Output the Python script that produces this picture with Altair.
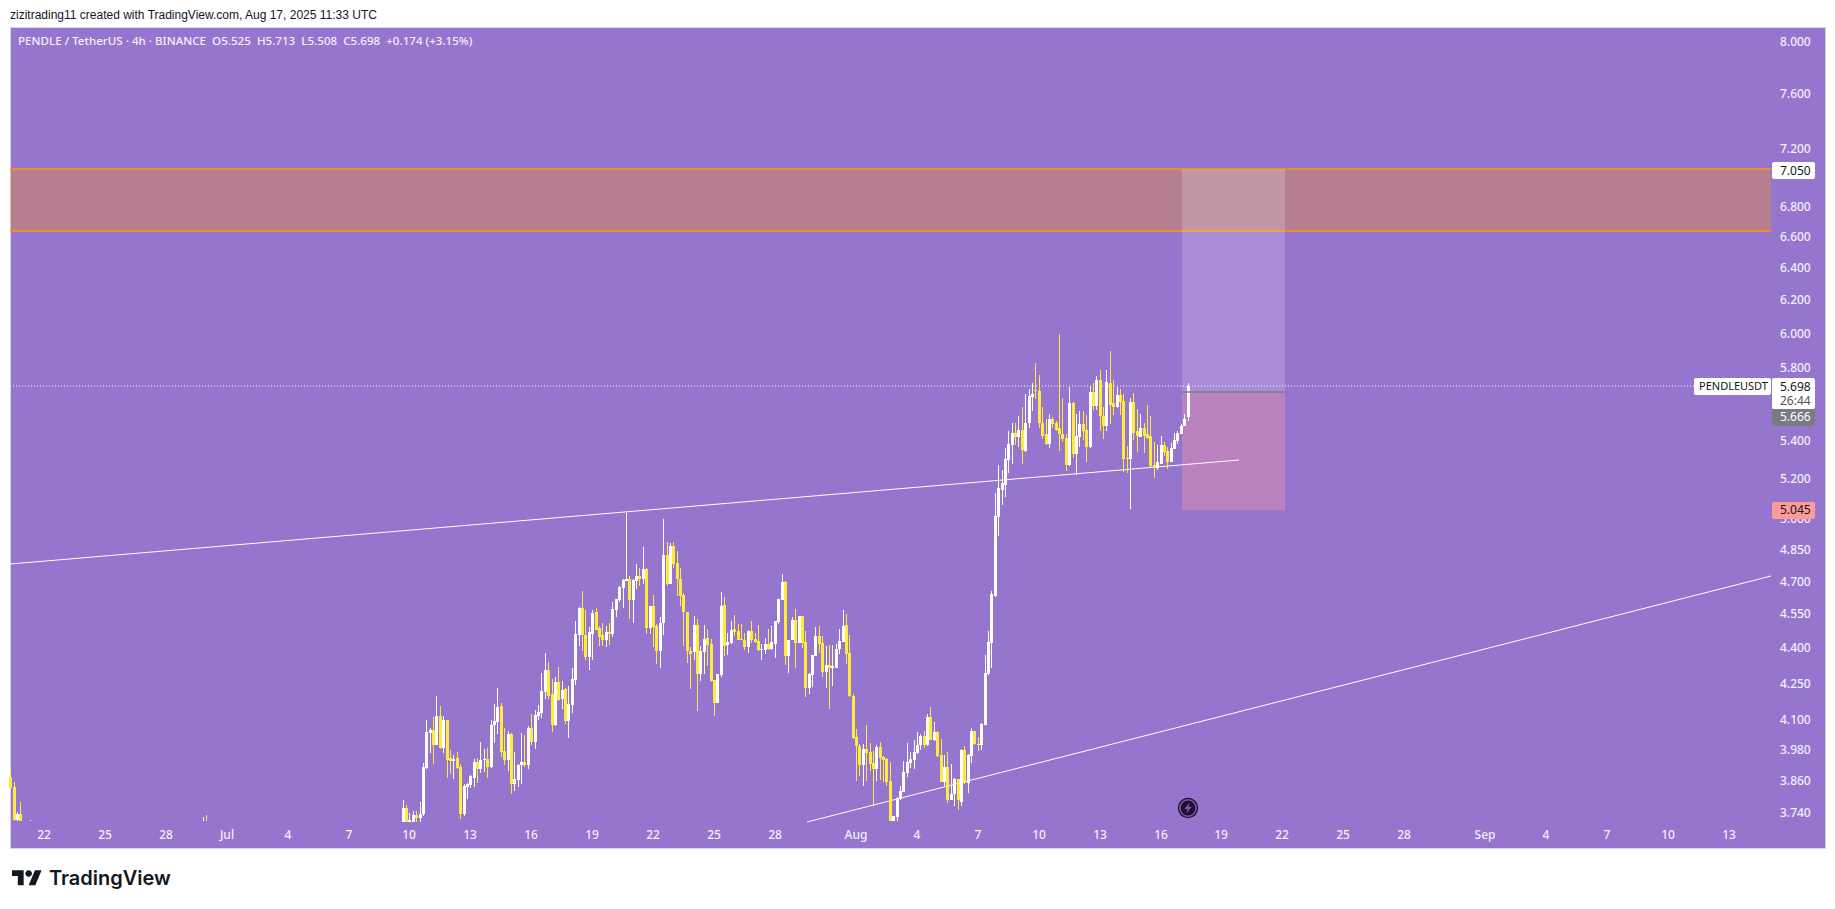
import datetime as dt
import altair as alt
import pandas as pd

# ---------- chart data (prices) ----------
bar_k = [-10, -9, -8, -7, -4, 47, 48] + list(range(106, 339))

opens = [3.878, 3.838, 3.715, 3.737, 3.711, 3.711, 3.712,
 3.71, 3.761, 3.71, 3.71, 3.735, 3.724, 3.739, 3.911, 4.048, 4.060,
 4.001, 4.116, 3.989, 4.100, 3.950, 3.938, 3.950, 3.915, 3.739, 3.839,
 3.846, 3.873, 3.934, 3.907, 3.942, 3.946, 3.915, 4.080, 4.092, 4.157,
 3.977, 3.942, 4.044, 3.850, 3.865, 3.922, 3.934, 3.922, 4.068, 4.013,
 4.116, 4.129, 4.217, 4.309, 4.208, 4.081, 4.255, 4.187, 4.229, 4.097,
 4.162, 4.267, 4.461, 4.581, 4.461, 4.365, 4.465, 4.559, 4.488, 4.457,
 4.435, 4.474, 4.465, 4.572, 4.613, 4.670, 4.701, 4.714, 4.613, 4.701,
 4.728, 4.714, 4.757, 4.488, 4.590, 4.497, 4.387, 4.514, 4.824, 4.690,
 4.867, 4.786, 4.714, 4.636, 4.562, 4.391, 4.383, 4.501, 4.291, 4.383,
 4.444, 4.418, 4.267, 4.171, 4.285, 4.592, 4.414, 4.422, 4.484, 4.475,
 4.440, 4.436, 4.405, 4.475, 4.440, 4.431, 4.392, 4.392, 4.418, 4.396,
 4.418, 4.515, 4.615, 4.698, 4.366, 4.436, 4.524, 4.422, 4.542, 4.427,
 4.230, 4.285, 4.366, 4.453, 4.422, 4.301, 4.327, 4.318, 4.318, 4.396,
 4.427, 4.502, 4.379, 4.200, 4.033, 3.997, 3.923, 3.985, 3.974, 3.930,
 3.907, 3.993, 3.954, 3.946, 3.863, 3.712, 3.728, 3.792, 3.819, 3.892,
 3.930, 3.942, 3.970, 4.001, 4.036, 4.001, 4.114, 4.021, 4.053, 3.962,
 3.859, 3.915, 3.788, 3.811, 3.869, 3.784, 3.981, 3.855, 3.958, 4.057,
 4.005, 4.001, 4.081, 4.289, 4.422, 4.635, 5.009, 5.144, 5.170, 5.300,
 5.378, 5.443, 5.422, 5.459, 5.347, 5.492, 5.635, 5.674, 5.669, 5.497,
 5.433, 5.384, 5.519, 5.497, 5.465, 5.438, 5.416, 5.274, 5.602, 5.331,
 5.422, 5.487, 5.459, 5.368, 5.663, 5.586, 5.731, 5.530, 5.476, 5.714,
 5.602, 5.580, 5.647, 5.614, 5.310, 5.305, 5.608, 5.449, 5.422, 5.470,
 5.433, 5.427, 5.274, 5.258, 5.279, 5.378, 5.347, 5.290, 5.358, 5.400,
 5.438, 5.476, 5.525]

highs = [3.910, 3.857, 3.744, 3.781, 3.715, 3.726, 3.734,
 3.790, 3.772, 3.741, 3.750, 3.750, 3.783, 3.929, 4.100, 4.068, 4.112,
 4.199, 4.157, 4.116, 4.100, 3.981, 3.961, 3.973, 3.926, 3.850, 3.854,
 3.884, 3.946, 3.950, 4.013, 3.985, 3.989, 4.100, 4.165, 4.231, 4.169,
 4.068, 4.056, 4.048, 3.973, 3.926, 4.048, 4.040, 4.076, 4.124, 4.141,
 4.161, 4.294, 4.381, 4.342, 4.271, 4.278, 4.322, 4.262, 4.234, 4.242,
 4.318, 4.519, 4.585, 4.655, 4.568, 4.492, 4.568, 4.581, 4.497, 4.510,
 4.497, 4.510, 4.608, 4.622, 4.678, 4.711, 5.029, 4.728, 4.711, 4.781,
 4.762, 4.862, 4.762, 4.590, 4.636, 4.506, 4.537, 4.999, 4.886, 4.882,
 4.886, 4.843, 4.762, 4.646, 4.562, 4.405, 4.544, 4.530, 4.409, 4.502,
 4.484, 4.440, 4.267, 4.289, 4.651, 4.628, 4.466, 4.520, 4.547, 4.506,
 4.506, 4.466, 4.479, 4.520, 4.466, 4.502, 4.418, 4.444, 4.484, 4.497,
 4.520, 4.619, 4.735, 4.702, 4.436, 4.538, 4.574, 4.542, 4.542, 4.475,
 4.297, 4.370, 4.493, 4.497, 4.453, 4.409, 4.414, 4.414, 4.418, 4.484,
 4.569, 4.551, 4.457, 4.208, 4.065, 4.003, 4.003, 4.081, 4.007, 3.976,
 4.000, 4.012, 3.958, 3.950, 3.934, 3.732, 3.800, 3.842, 3.938, 4.007,
 3.974, 4.019, 4.052, 4.044, 4.057, 4.126, 4.155, 4.094, 4.057, 4.025,
 3.962, 3.974, 3.926, 3.873, 3.869, 3.985, 3.997, 3.966, 4.069, 4.057,
 4.033, 4.089, 4.373, 4.475, 4.656, 5.129, 5.274, 5.248, 5.363, 5.454,
 5.497, 5.497, 5.530, 5.580, 5.652, 5.680, 5.714, 5.829, 5.760, 5.580,
 5.519, 5.541, 5.525, 5.503, 5.998, 5.630, 5.436, 5.691, 5.608, 5.541,
 5.558, 5.558, 5.536, 5.697, 5.714, 5.754, 5.788, 5.580, 5.788, 5.898,
 5.731, 5.691, 5.680, 5.652, 5.373, 5.630, 5.658, 5.569, 5.541, 5.497,
 5.591, 5.530, 5.395, 5.378, 5.427, 5.395, 5.368, 5.389, 5.443, 5.449,
 5.487, 5.545, 5.713]

lows = [3.829, 3.711, 3.711, 3.711, 3.711, 3.711, 3.711,
 3.71, 3.71, 3.71, 3.71, 3.71, 3.71, 3.732, 3.907, 3.969, 3.926,
 4.001, 3.985, 3.969, 3.873, 3.888, 3.869, 3.907, 3.721, 3.732, 3.794,
 3.835, 3.839, 3.854, 3.892, 3.896, 3.873, 3.911, 4.009, 4.044, 3.953,
 3.922, 3.899, 3.813, 3.824, 3.839, 3.850, 3.915, 3.907, 4.001, 3.985,
 4.100, 4.108, 4.187, 4.187, 4.053, 4.077, 4.179, 4.145, 4.085, 4.028,
 4.130, 4.246, 4.409, 4.387, 4.352, 4.309, 4.352, 4.479, 4.409, 4.409,
 4.405, 4.413, 4.452, 4.540, 4.608, 4.581, 4.701, 4.528, 4.510, 4.664,
 4.678, 4.687, 4.465, 4.465, 4.405, 4.335, 4.318, 4.461, 4.678, 4.690,
 4.762, 4.632, 4.590, 4.409, 4.339, 4.229, 4.352, 4.138, 4.263, 4.292,
 4.323, 4.255, 4.118, 4.171, 4.280, 4.366, 4.370, 4.418, 4.453, 4.436,
 4.436, 4.392, 4.379, 4.422, 4.422, 4.387, 4.352, 4.374, 4.392, 4.392,
 4.361, 4.509, 4.615, 4.331, 4.297, 4.436, 4.318, 4.422, 4.400, 4.196,
 4.208, 4.238, 4.366, 4.379, 4.276, 4.231, 4.147, 4.242, 4.318, 4.374,
 4.427, 4.335, 4.196, 4.025, 3.863, 3.880, 3.842, 3.863, 3.900, 3.768,
 3.863, 3.867, 3.859, 3.843, 3.712, 3.712, 3.712, 3.788, 3.819, 3.877,
 3.911, 3.907, 3.966, 3.982, 3.989, 3.997, 4.021, 4.017, 3.954, 3.859,
 3.843, 3.780, 3.788, 3.766, 3.752, 3.766, 3.851, 3.815, 3.930, 4.001,
 3.977, 3.981, 4.081, 4.285, 4.318, 4.631, 4.916, 5.069, 5.109, 5.232,
 5.279, 5.378, 5.368, 5.279, 5.342, 5.470, 5.558, 5.625, 5.465, 5.411,
 5.378, 5.363, 5.465, 5.449, 5.347, 5.395, 5.243, 5.269, 5.310, 5.222,
 5.368, 5.406, 5.290, 5.363, 5.563, 5.563, 5.449, 5.411, 5.454, 5.487,
 5.536, 5.575, 5.536, 5.238, 5.232, 5.049, 5.406, 5.342, 5.422, 5.336,
 5.411, 5.264, 5.206, 5.248, 5.279, 5.320, 5.253, 5.285, 5.358, 5.384,
 5.438, 5.476, 5.508]

closes = [3.836, 3.715, 3.737, 3.711, 3.711, 3.711, 3.711,
 3.761, 3.71, 3.717, 3.735, 3.724, 3.739, 3.915, 4.052, 4.060, 4.001,
 4.116, 3.989, 4.100, 3.942, 3.938, 3.946, 3.911, 3.739, 3.843, 3.850,
 3.880, 3.934, 3.907, 3.942, 3.946, 3.915, 4.080, 4.096, 4.153, 3.973,
 3.942, 4.044, 3.850, 3.869, 3.922, 3.934, 3.922, 4.068, 4.013, 4.120,
 4.133, 4.219, 4.309, 4.200, 4.081, 4.255, 4.183, 4.225, 4.097, 4.167,
 4.271, 4.465, 4.581, 4.461, 4.365, 4.470, 4.555, 4.483, 4.452, 4.435,
 4.474, 4.465, 4.576, 4.618, 4.673, 4.706, 4.711, 4.613, 4.706, 4.728,
 4.711, 4.757, 4.488, 4.590, 4.492, 4.387, 4.514, 4.824, 4.690, 4.867,
 4.781, 4.711, 4.632, 4.559, 4.387, 4.378, 4.501, 4.292, 4.387, 4.440,
 4.414, 4.263, 4.171, 4.289, 4.588, 4.409, 4.427, 4.479, 4.470, 4.436,
 4.436, 4.405, 4.475, 4.436, 4.427, 4.392, 4.396, 4.418, 4.396, 4.427,
 4.520, 4.619, 4.698, 4.366, 4.436, 4.524, 4.422, 4.542, 4.422, 4.230,
 4.289, 4.370, 4.453, 4.418, 4.301, 4.327, 4.318, 4.323, 4.396, 4.431,
 4.497, 4.374, 4.200, 4.029, 3.997, 3.923, 3.985, 3.970, 3.926, 3.907,
 3.993, 3.950, 3.942, 3.859, 3.712, 3.732, 3.796, 3.823, 3.896, 3.934,
 3.946, 3.974, 4.001, 4.036, 4.001, 4.114, 4.021, 4.053, 3.958, 3.859,
 3.915, 3.788, 3.811, 3.869, 3.788, 3.981, 3.855, 3.962, 4.057, 4.005,
 4.001, 4.085, 4.293, 4.427, 4.642, 5.014, 5.154, 5.180, 5.305, 5.384,
 5.443, 5.422, 5.459, 5.352, 5.497, 5.641, 5.652, 5.669, 5.492, 5.427,
 5.384, 5.519, 5.487, 5.459, 5.433, 5.411, 5.274, 5.602, 5.331, 5.427,
 5.487, 5.454, 5.368, 5.663, 5.586, 5.731, 5.530, 5.476, 5.720, 5.591,
 5.580, 5.647, 5.608, 5.305, 5.305, 5.608, 5.443, 5.427, 5.470, 5.427,
 5.416, 5.269, 5.258, 5.285, 5.378, 5.342, 5.290, 5.363, 5.406, 5.443,
 5.481, 5.519, 5.698]

price_labels = [8.0, 7.6, 7.2, 6.8, 6.6, 6.4, 6.2, 6.0, 5.8, 5.4, 5.2, 5.0,
                4.85, 4.7, 4.55, 4.4, 4.25, 4.1, 3.98, 3.86, 3.74]
date_ticks = ["2025-06-22", "2025-06-25", "2025-06-28", "2025-07-01", "2025-07-04",
              "2025-07-07", "2025-07-10", "2025-07-13", "2025-07-16", "2025-07-19",
              "2025-07-22", "2025-07-25", "2025-07-28", "2025-08-01", "2025-08-04",
              "2025-08-07", "2025-08-10", "2025-08-13", "2025-08-16", "2025-08-19",
              "2025-08-22", "2025-08-25", "2025-08-28", "2025-09-01", "2025-09-04",
              "2025-09-07", "2025-09-10", "2025-09-13"]
date_labels = ["22", "25", "28", "Jul", "4", "7", "10", "13", "16", "19", "22", "25", "28",
               "Aug", "4", "7", "10", "13", "16", "19", "22", "25", "28", "Sep", "4", "7", "10", "13"]

PURPLE = "#9575cd"
YELLOW = "#ffeb3b"
ORANGE = "#ff9800"
GREY = "#787b86"
TICK = "#f3eff9"
FONT = "Noto Sans"

DOM_L = "2025-06-20T07:48:00Z"
DOM_R = "2025-09-17T17:31:00Z"
PANE_R = "2025-09-15T01:50:00Z"
BOX_L = "2025-08-17T01:25:00Z"
BOX_R = "2025-08-22T03:10:00Z"

XS = alt.Scale(type="utc", domain=[DOM_L, DOM_R], round=True, padding=0, nice=False)
YS = alt.Scale(type="log", domain=[3.6147, 8.117], round=True, nice=False, zero=False, padding=0)

t0 = dt.datetime(2025, 6, 22)
assert len(bar_k) == len(opens) == len(highs) == len(lows) == len(closes)
candles = pd.DataFrame({
    "t": [(t0 + dt.timedelta(hours=4 * k)).strftime("%Y-%m-%dT%H:%M:00Z") for k in bar_k],
    "o": opens, "h": highs, "l": lows, "c": closes,
})
candles["top"] = candles[["o", "c"]].max(axis=1)
candles["bot"] = candles[["o", "c"]].min(axis=1)
candles["dir"] = ["up" if c >= o else "down" for o, c in zip(opens, closes)]
DIR = alt.Color("dir:N", scale=alt.Scale(domain=["up", "down"], range=["#ffffff", YELLOW]), legend=None)


def X(f, **kw):
    return alt.X(f, type="temporal", scale=XS, axis=None, title=None, **kw)


def Y(f):
    return alt.Y(f, type="quantitative", scale=YS, axis=None, title=None)


def rect(x1, x2, p1, p2, **mark):
    d = pd.DataFrame({"a": [x1], "b": [x2], "p": [p1], "q": [p2]})
    return alt.Chart(d).mark_rect(**mark).encode(
        x=X("a"), x2=alt.X2("b"), y=Y("p"), y2=alt.Y2("q"))


def hline(x1, x2, p, color, width=1.0, dash=None, opacity=1.0):
    d = pd.DataFrame({"a": [x1], "b": [x2], "p": [p]})
    kw = {"strokeDash": dash} if dash else {}
    return alt.Chart(d).mark_rule(color=color, strokeWidth=width, opacity=opacity, **kw).encode(
        x=X("a"), x2=alt.X2("b"), y=Y("p"))


def trend(x1, p1, x2, p2):
    d = pd.DataFrame({"a": [x1, x2], "p": [p1, p2]})
    return alt.Chart(d).mark_line(color="#ffffff", strokeWidth=1).encode(x=X("a"), y=Y("p"))


def px_box(x1, x2, y1, y2, color):
    return alt.Chart(pd.DataFrame({"n": [0]})).mark_rect(color=color, cornerRadius=2).encode(
        x=alt.value(x1 - 10), x2=alt.value(x2 - 10), y=alt.value(y1 - 27), y2=alt.value(y2 - 27))


def px_text(x, y, s, color, size=11.6, align="left", font=FONT, weight="normal"):
    return alt.Chart(pd.DataFrame({"s": [s]})).mark_text(
        color=color, fontSize=size, align=align, baseline="middle", font=font, fontWeight=weight
    ).encode(x=alt.value(x - 10), y=alt.value(y - 27), text="s:N")


price_tick_df = pd.DataFrame({"p": price_labels, "s": [f"{p:.3f}" for p in price_labels]})
price_ticks = alt.Chart(price_tick_df).mark_text(
    color=TICK, fontSize=12, font=FONT, fontWeight=500, align="left", baseline="middle"
).encode(x=alt.value(1780 - 10), y=Y("p"), text="s:N")

date_tick_df = pd.DataFrame({"t": [d + "T00:00:00Z" for d in date_ticks], "s": date_labels})
date_tick_marks = alt.Chart(date_tick_df).mark_text(
    color=TICK, fontSize=12, font=FONT, fontWeight=500, align="center", baseline="middle"
).encode(x=X("t"), y=alt.value(835 - 27), text="s:N")

wicks = alt.Chart(candles).mark_rule(strokeWidth=1, xOffset=0.5).encode(
    x=X("t"), y=Y("h"), y2=alt.Y2("l:Q"), color=DIR)
bodies = alt.Chart(candles).mark_bar(size=3, xOffset=0.5, strokeWidth=0).encode(
    x=X("t"), y=Y("top"), y2=alt.Y2("bot:Q"), color=DIR)

LOGO = ("M-.222,.444H-.611V-.167H-1V-.556H-.222Z"
        "M.556,.444H.111L.528,-.556H.972Z"
        "M-.111,-.333a.222,.222 0 1,0 .444,0a.222,.222 0 1,0 -.444,0Z")
logo = alt.Chart(pd.DataFrame({"n": [0]})).mark_point(
    shape=LOGO, size=900, filled=True, color="#131722", opacity=1, strokeWidth=0
).encode(x=alt.value(27 - 10), y=alt.value(878.5 - 27))

icon_d = pd.DataFrame({"t": ["2025-08-17T08:00:00Z"], "p": [3.759]})
icon_enc = dict(x=X("t"), y=Y("p"))
icon = (
    alt.Chart(icon_d).mark_point(shape="circle", size=415, filled=True, color="#131722", opacity=1, strokeWidth=0).encode(**icon_enc)
    + alt.Chart(icon_d).mark_point(shape="circle", size=270, filled=True, fill="#131722", stroke="#a93fd6", strokeWidth=1.5, opacity=1).encode(**icon_enc)
    + alt.Chart(icon_d).mark_point(shape="M.3,-1L-.6,.15H-.05L-.3,1L.6,-.2H.05Z", size=144, filled=True, color="#a93fd6", opacity=1, strokeWidth=0).encode(**icon_enc)
)

layers = [
    rect(DOM_L, PANE_R, 7.06, 6.641, color=ORANGE, opacity=0.3),
    hline(DOM_L, PANE_R, 7.06, ORANGE, 1.5),
    hline(DOM_L, PANE_R, 6.641, ORANGE, 1.5),
    rect(BOX_L, BOX_R, 7.05, 5.666, color="#ffffff", opacity=0.18),
    rect(BOX_L, BOX_R, 5.666, 5.045, color="#ff9aa2", opacity=0.35),
    hline(BOX_L, BOX_R, 7.05, "#ffffff", 1, opacity=0.2),
    hline(DOM_L, "2025-09-11T06:45:00Z", 5.698, "#ffffff", 1, dash=[1, 2]),
    trend(DOM_L, 4.781, "2025-08-19T20:50:00Z", 5.30),
    trend("2025-07-29T14:10:00Z", 3.71, PANE_R, 4.725),
    wicks, bodies,
    hline(BOX_L, BOX_R, 5.666, GREY, 1.5),
    icon,
    price_ticks, date_tick_marks,
    # right-hand price tags
    px_box(1772, 1815, 162, 179, "#ffffff"), px_text(1780, 170.7, "7.050", "#131722", 12),
    px_box(1694, 1771, 378, 395, "#ffffff"), px_text(1699, 386.7, "PENDLEUSDT", "#131722", 11),
    px_box(1772, 1815, 378, 409, "#ffffff"), px_text(1780, 386.7, "5.698", "#131722", 12),
    px_text(1780, 400.7, "26:44", "#555555", 12),
    px_box(1772, 1815, 409, 426, GREY), px_text(1780, 417.3, "5.666", "#ffffff", 12),
    px_box(1772, 1815, 502, 519, "#ff9a9a"), px_text(1780, 510.3, "5.045", "#131722", 12),
    # header and footer
    px_text(10, 15, "zizitrading11 created with TradingView.com, Aug 17, 2025 11:33 UTC", "#131722", 12, font="Liberation Sans"),
    px_text(18, 42, "PENDLE / TetherUS · 4h · BINANCE\u00a0\u00a0O5.525\u00a0\u00a0H5.713\u00a0\u00a0L5.508\u00a0\u00a0C5.698\u00a0\u00a0+0.174 (+3.15%)",
            TICK, weight=500),
    logo,
    px_text(49, 878.5, "TradingView", "#131722", 20, font="Inter", weight=600),
]

chart = alt.layer(*layers).resolve_scale(color="independent").properties(
    width=1815, height=821,
    autosize=alt.AutoSizeParams(type="none"),
    padding={"left": 2, "top": 19, "right": 2, "bottom": 50},
    background="#ffffff",
).configure_view(fill=PURPLE, stroke="#d9d2ec", strokeWidth=1)

chart.save("out.html", embed_options={"renderer": "svg", "actions": False})
